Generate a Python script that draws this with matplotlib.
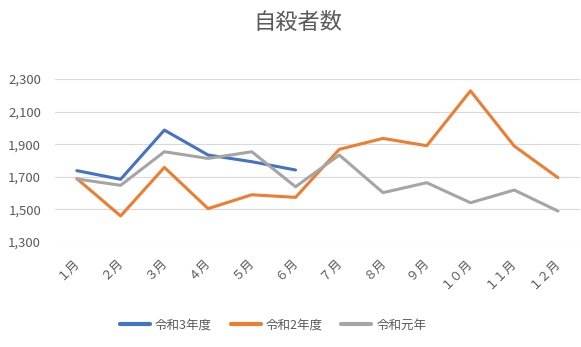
import matplotlib
matplotlib.use('Agg')
import matplotlib.pyplot as plt

plt.rcParams['font.family'] = ['Noto Sans CJK JP', 'DejaVu Sans']

# data
months = ['１月', '２月', '３月', '４月', '５月', '６月', '７月', '８月', '９月',
          '１０月', '１１月', '１２月']
r3 = [1738, 1685, 1987, 1834, 1793, 1742]
r2 = [1689, 1460, 1758, 1505, 1590, 1574, 1869, 1936, 1891, 2228, 1889, 1695]
r1 = [1687, 1648, 1854, 1813, 1854, 1639, 1834, 1603, 1664, 1541, 1619, 1490]
yticks = [1300, 1500, 1700, 1900, 2100, 2300]

txt = '#595959'

fig = plt.figure(figsize=(5.81, 3.47), dpi=100)
ax = fig.add_axes([0.0947, 0.3026, 0.9033, 0.4694])

x = list(range(len(months)))
ax.plot(x[:len(r3)], r3, color='#4472C4', lw=2.2, label='令和3年度', solid_capstyle='round')
ax.plot(x, r2, color='#ED7D31', lw=2.2, label='令和2年度', solid_capstyle='round')
ax.plot(x, r1, color='#A5A5A5', lw=2.2, label='令和元年', solid_capstyle='round')

ax.set_xlim(-0.5, 11.5)
ax.set_ylim(1300, 2300)
ax.set_yticks(yticks)
ax.set_yticklabels(['{:,}'.format(v) for v in yticks], color=txt, fontsize=9.5)
ax.set_xticks(x)
ax.set_xticklabels(months, color=txt, fontsize=9, rotation=45,
                   ha='right', va='center', rotation_mode='anchor')
ax.tick_params(axis='both', length=0)
ax.tick_params(axis='y', pad=10)
ax.tick_params(axis='x', pad=13)
ax.grid(axis='y', color='#D9D9D9', lw=0.8)
ax.set_axisbelow(True)
for s in ax.spines.values():
    s.set_visible(False)

fig.text(0.513, 0.935, '自殺者数', ha='center', va='center', fontsize=16, color=txt)

leg = fig.legend(loc='center', bbox_to_anchor=(0.47, 0.063), ncol=3, frameon=False,
                 fontsize=9, labelcolor=txt, handlelength=2.4, handletextpad=0.4,
                 columnspacing=1.5)
for ln in leg.get_lines():
    ln.set_linewidth(3)

fig.savefig('out.png', dpi=100)
